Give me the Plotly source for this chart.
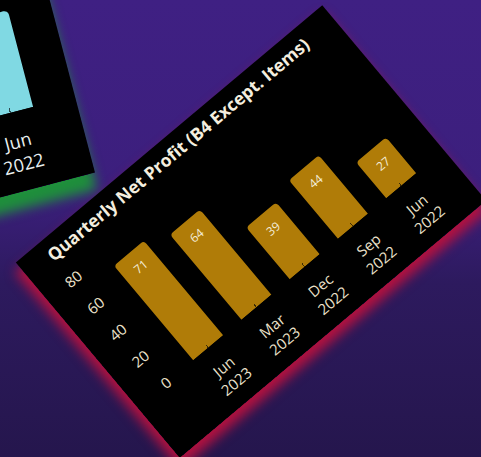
import json
import plotly.graph_objects as go

# ---- data ----
quarters = ["Jun<br>2023", "Mar<br>2023", "Dec<br>2022", "Sep<br>2022", "Jun<br>2022"]
net_profit = [71, 64, 39, 44, 27]
y_ticks = [0, 20, 40, 60, 80]
chart_title = "Quarterly Net Profit (B4 Except. Items)"

side_quarters = ["Jun<br>2022"]
side_values = [48]

FONT = "Open Sans"
CREAM = "#ece2cb"

# ---- main card ----
fig = go.Figure(
    go.Bar(
        x=quarters,
        y=net_profit,
        width=0.62,
        marker=dict(color="#b07c08", line=dict(width=0), cornerradius=4),
        hoverinfo="skip",
    )
)
for q, v in zip(quarters, net_profit):
    fig.add_annotation(
        x=q, y=v, text=str(v), showarrow=False,
        yanchor="middle", yshift=-18,
        font=dict(family=FONT, size=12, color="#f4ecd8"),
    )
fig.update_layout(
    width=400,
    height=255,
    margin=dict(l=61, r=24, t=50, b=66, pad=0),
    paper_bgcolor="#000000",
    plot_bgcolor="#000000",
    showlegend=False,
    font=dict(family=FONT, color=CREAM),
    title=dict(
        text=chart_title,
        xref="container", x=29 / 400, xanchor="left",
        yref="container", y=1 - 12 / 255, yanchor="top",
        font=dict(family=FONT, size=17.5, color="#f4eedf", weight="bold"),
    ),
    xaxis=dict(
        type="category",
        ticks="inside", ticklen=4, tickwidth=1, tickcolor="#3a2a05",
        showgrid=False, showline=False, zeroline=False,
        tickfont=dict(family=FONT, size=15, color=CREAM),
        ticklabelstandoff=14,
    ),
    yaxis=dict(
        range=[0, 80], tickvals=y_ticks,
        showgrid=False, showline=False, zeroline=False, ticks="",
        tickfont=dict(family=FONT, size=15, color=CREAM),
        ticklabelstandoff=18,
    ),
)

# ---- partially visible neighbouring card ----
fig2 = go.Figure(
    go.Bar(
        x=side_quarters,
        y=side_values,
        width=0.62,
        marker=dict(color="#80d9e3", line=dict(width=0), cornerradius=4),
        hoverinfo="skip",
    )
)
fig2.update_layout(
    width=400,
    height=255,
    margin=dict(l=61, r=24, t=50, b=62, pad=0),
    paper_bgcolor="#000000",
    plot_bgcolor="#000000",
    showlegend=False,
    xaxis=dict(
        type="category", range=[-4.5, 0.5],
        ticks="inside", ticklen=4, tickwidth=1, tickcolor="#2a4a50",
        showgrid=False, showline=False, zeroline=False,
        tickfont=dict(family=FONT, size=15, color="#eaf0f0"),
        ticklabelstandoff=14,
    ),
    yaxis=dict(range=[0, 80], visible=False),
)
fig2_json = fig2.to_json()

post = """
(function(){
  var html = document.documentElement;
  html.style.height = '100%';
  html.style.overflow = 'hidden';
  html.style.background = 'linear-gradient(180deg,#3f2083 0%,#3c1f7d 42%,#2d1a5e 62%,#25164d 100%)';
  document.body.style.margin = '0';
  document.body.style.overflow = 'hidden';
  document.body.style.background = 'transparent';
  var gd = document.getElementById('{plot_id}');
  gd.style.position = 'absolute';
  gd.style.left = '51px';
  gd.style.top = '103.5px';
  gd.style.transformOrigin = '50% 50%';
  gd.style.transform = 'rotate(-40deg)';
  gd.style.boxShadow = '-6px 8px 12px 1px #b3123f';
  gd.style.zIndex = '2';
  var d2 = document.createElement('div');
  d2.style.cssText = 'position:absolute;left:-376px;top:-42.5px;width:400px;height:255px;' +
    'transform-origin:50% 50%;transform:rotate(-14.7deg) scale(1.2);' +
    'box-shadow:-5px 11px 10px 3px #1f8f3c;z-index:1;';
  document.body.insertBefore(d2, document.body.firstChild);
  var f2 = FIG2JSON;
  Plotly.newPlot(d2, f2.data, f2.layout, {displayModeBar:false, staticPlot:true});
})();
""".replace("FIG2JSON", fig2_json)

fig.write_html(
    "out.html",
    config={"displayModeBar": False, "staticPlot": True},
    post_script=post,
)
